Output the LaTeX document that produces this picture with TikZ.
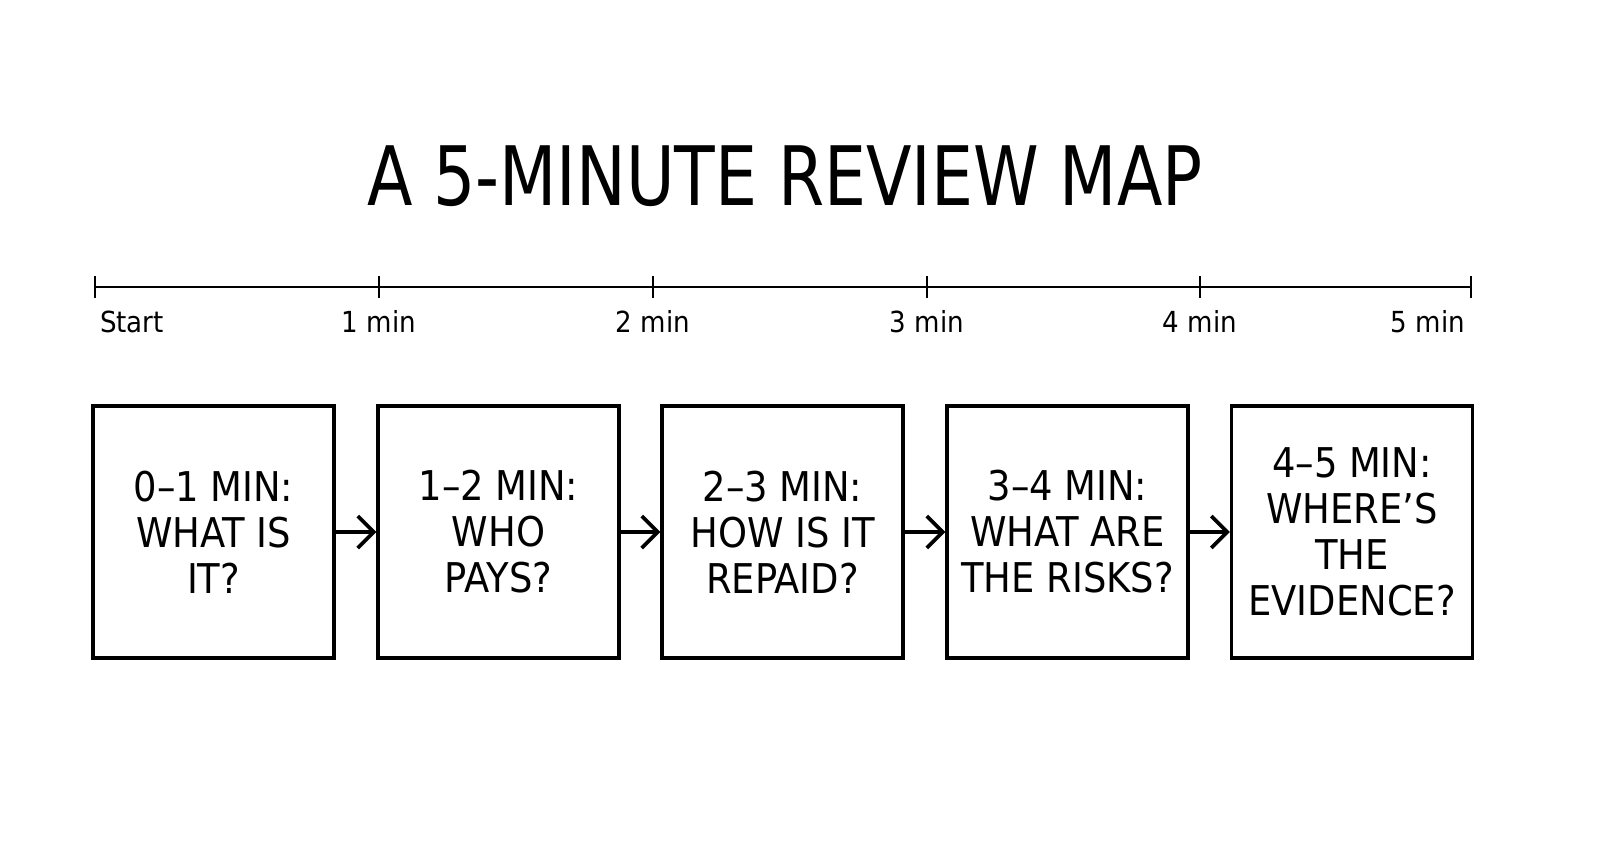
\documentclass[tikz,border=0pt]{standalone}
\usepackage{fontspec}
\setmainfont{DejaVu Sans Condensed}
\usetikzlibrary{arrows.meta}
\begin{document}
\begin{tikzpicture}[x=0.5pt,y=-0.5pt,
  box/.style={draw,line width=1.7pt,minimum width=120.5pt,minimum height=126pt,inner sep=0pt,
    align=center,font=\fontsize{20.5}{23}\selectfont},
  tl/.style={line width=1.1pt},
  lab/.style={font=\fontsize{14.5}{16}\selectfont,anchor=base},
  con/.style={line width=1.8pt,-{Straight Barb[length=8pt,width=16pt,line width=1.8pt]}}]
\useasboundingbox[fill=white] (0,0) rectangle (1600,848);
\node[font=\fontsize{41}{48}\selectfont,anchor=base] (title) at (785,205) {\scalebox{0.9}[1]{A 5-MINUTE REVIEW MAP}};
\coordinate (t0) at (95,287); \coordinate (t5) at (1471,287);
\draw[tl] (t0) -- (t5);
\foreach \x/\n in {95/a,379/b,653/c,927/d,1200/e,1471/f}{
  \draw[tl] (\x,276) -- (\x,298);}
\node[lab,anchor=base west] (l0) at (93,332) {Start};
\node[lab] (l1) at (379,332) {1 min};
\node[lab] (l2) at (653,332) {2 min};
\node[lab] (l3) at (927,332) {3 min};
\node[lab] (l4) at (1200,332) {4 min};
\node[lab,anchor=base east] (l5) at (1472,332) {5 min};
\node[box] (b1) at (213.5,532) {0–1 MIN:\\WHAT IS\\IT?};
\node[box] (b2) at (498.5,532) {1–2 MIN:\\WHO\\PAYS?};
\node[box] (b3) at (782.5,532) {2–3 MIN:\\HOW IS IT\\REPAID?};
\node[box] (b4) at (1067.5,532) {3–4 MIN:\\WHAT ARE\\THE RISKS?};
\node[box] (b5) at (1352,532) {4–5 MIN:\\WHERE’S\\THE\\EVIDENCE?};
\draw[con] (b1) -- (b2);
\draw[con] (b2) -- (b3);
\draw[con] (b3) -- (b4);
\draw[con] (b4) -- (b5);
\end{tikzpicture}
\end{document}
